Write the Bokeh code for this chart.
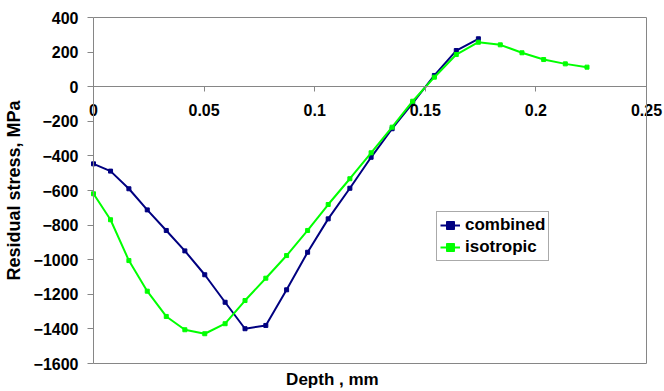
from bokeh.plotting import figure
from bokeh.models import LinearAxis, Range1d, FixedTicker, Legend, LegendItem, Label
from bokeh.embed import file_html
from bokeh.resources import INLINE

# Data (depth in mm, residual stress in MPa)
combined_depth = [0, 0.0077, 0.016, 0.0243, 0.0329, 0.0413, 0.0503, 0.0595, 0.0685, 0.0779,
                  0.0873, 0.0968, 0.1061, 0.1159, 0.1255, 0.135, 0.1443, 0.1541, 0.164, 0.174]
combined_stress = [-446, -488, -590, -712, -831, -949, -1087, -1246, -1399, -1380,
                   -1174, -957, -764, -587, -408, -243, -95, 65, 209, 277]
isotropic_depth = [0, 0.0077, 0.016, 0.0243, 0.0329, 0.0413, 0.0503, 0.0595, 0.0685, 0.0779,
                   0.0873, 0.0968, 0.1061, 0.1159, 0.1255, 0.135, 0.1443, 0.1541, 0.164, 0.174,
                   0.1839, 0.1937, 0.2035, 0.2133, 0.2231]
isotropic_stress = [-619, -769, -1005, -1182, -1328, -1405, -1428, -1370, -1236, -1107,
                    -976, -831, -681, -532, -382, -234, -84, 55, 186, 257,
                    242, 196, 157, 132, 113]
x_ticks = [0, 0.05, 0.1, 0.15, 0.2, 0.25]
y_ticks = [-1600, -1400, -1200, -1000, -800, -600, -400, -200, 0, 200, 400]
x_min, x_max = 0, 0.25
y_min, y_max = -1600, 400
x_label = "Depth , mm"
y_label = "Residual stress, MPa"
names = ["combined", "isotropic"]
colors = ["#000080", "#00FF00"]

FONT = "Liberation Sans"
GREY = "#868686"

W, H = 664, 391
# plot-area box in canvas pixels
PL, PR, PT, PB = 93, 646, 17, 363
xs = (PR - PL) / (x_max - x_min)
ys = (PB - PT) / (y_max - y_min)
xr = Range1d(x_min - PL / xs, x_max + (W - PR) / xs)
yr = Range1d(y_min - (H - PB) / ys, y_max + PT / ys)

p = figure(width=W, height=H, output_backend="svg", toolbar_location=None,
           x_range=xr, y_range=yr, x_axis_location=None, y_axis_location=None,
           min_border=0)
p.grid.visible = False
p.outline_line_color = None
p.background_fill_color = "white"
p.border_fill_color = "white"


def style_labels(ax, size="16px"):
    ax.major_label_text_font = FONT
    ax.major_label_text_font_style = "bold"
    ax.major_label_text_font_size = size
    ax.major_label_text_color = "black"


# y axis at x = 0
yax = LinearAxis(ticker=FixedTicker(ticks=y_ticks), axis_label=y_label,
                 fixed_location=0, bounds=(y_min, y_max))
yax.axis_line_color = GREY
yax.major_tick_line_color = GREY
yax.major_tick_out = 6
yax.major_tick_in = 0
yax.minor_tick_line_color = None
yax.major_label_standoff = 9
style_labels(yax)
yax.axis_label_text_font = FONT
yax.axis_label_text_font_style = "bold"
yax.axis_label_text_font_size = "18px"
yax.axis_label_text_color = "black"
yax.axis_label_standoff = 7
p.add_layout(yax, "left")

# x axis crossing at y = 0
xax = LinearAxis(ticker=FixedTicker(ticks=x_ticks), fixed_location=0, bounds=(x_min, x_max))
xax.axis_line_color = GREY
xax.major_tick_line_color = GREY
xax.major_tick_out = 5
xax.major_tick_in = 0
xax.minor_tick_line_color = None
xax.major_label_standoff = 12
style_labels(xax)
p.add_layout(xax, "below")


# plot-area border: top, right and bottom edges as bare axis lines
def border_axis(loc, bounds, side):
    ax = LinearAxis(ticker=FixedTicker(ticks=[]), fixed_location=loc, bounds=bounds)
    ax.axis_line_color = GREY
    ax.major_tick_line_color = None
    ax.minor_tick_line_color = None
    ax.major_label_text_font_size = "0px"
    p.add_layout(ax, side)


border_axis(y_max, (x_min, x_max), "above")
border_axis(x_max, (y_min, y_max), "right")
border_axis(y_min, (x_min, x_max), "below")

# x axis title
xl = Label(x=0.108, y=y_min - 16 / ys, text=x_label, text_align="center",
           text_baseline="middle", text_font=FONT, text_font_style="bold",
           text_font_size="17px", text_color="black")
p.add_layout(xl)

# series
r1l = p.line(combined_depth, combined_stress, line_color=colors[0], line_width=2)
r1s = p.scatter(combined_depth, combined_stress, marker="square", size=4,
                fill_color=colors[0], line_color=colors[0])
r2l = p.line(isotropic_depth, isotropic_stress, line_color=colors[1], line_width=2)
r2s = p.scatter(isotropic_depth, isotropic_stress, marker="square", size=4,
                fill_color=colors[1], line_color=colors[1])

legend = Legend(items=[LegendItem(label=names[0], renderers=[r1l, r1s]),
                       LegendItem(label=names[1], renderers=[r2l, r2s])],
                location=(436, 130), padding=3, spacing=2, margin=0,
                glyph_width=20, glyph_height=20, label_height=20, label_standoff=5,
                border_line_color="#555555", border_line_width=1,
                label_text_font=FONT, label_text_font_style="bold",
                label_text_font_size="17px", label_text_color="black",
                background_fill_color="white")
p.add_layout(legend, "center")

html = file_html(p, INLINE)
open("out.html", "w").write(html)
